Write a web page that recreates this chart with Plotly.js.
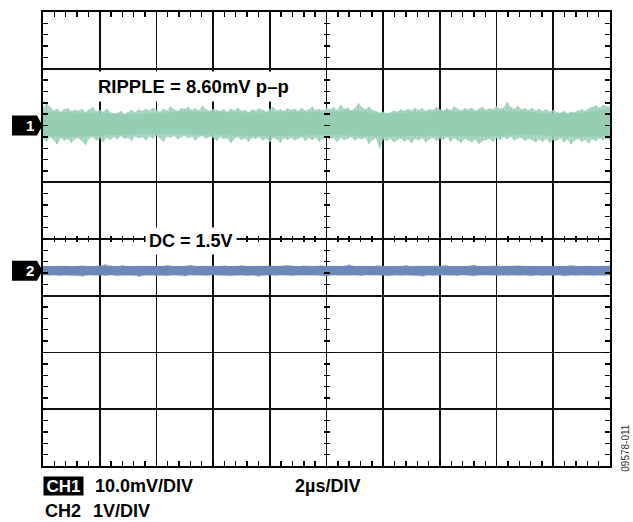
<!DOCTYPE html>
<html><head><meta charset="utf-8">
<script src="https://cdn.plot.ly/plotly-3.0.1.min.js"></script>
<style>html,body{margin:0;padding:0;background:#fff}#chart{width:633px;height:522px}</style>
</head><body><div id="chart"></div>
<script>
// ---- CH1 (10 mV/div) : values in mV relative to the CH1 marker, 20 µs span ----
// slow wander of the dense core of the ripple band (one value per µs)
const ch1CoreUpper = [2.3,2.2,2.1,1.9,2.1,2.4,2.3,2.2,2.2,2.3,2.4,2.5,2.0,2.2,2.4,2.4,2.5,2.4,2.0,2.2,2.8];
const ch1CoreLower = [-1.8,-1.9,-1.7,-1.5,-1.4,-1.4,-1.6,-1.7,-1.8,-1.7,-1.6,-1.7,-1.9,-1.8,-1.7,-1.9,-1.8,-1.5,-1.8,-1.9,-1.8];
// noise peaks (every 0.125 µs)
const ch1Upper = [
3.1,3.9,3.2,2.6,2.9,2.4,2.8,3.0,2.5,2.7,
2.6,2.9,2.3,2.8,3.2,2.5,2.7,2.4,2.9,2.3,
2.1,2.2,2.5,2.0,2.4,2.7,2.3,2.8,2.5,2.9,
2.6,3.1,2.7,2.4,2.9,2.6,3.3,2.8,2.5,3.0,
2.9,3.2,2.7,3.0,2.6,3.4,2.8,2.5,2.9,2.7,
2.5,2.8,2.4,2.9,2.6,3.1,2.5,2.7,2.3,2.8,
2.6,3.0,2.7,2.4,2.9,3.2,2.6,2.8,2.5,3.0,
2.7,2.9,2.5,3.1,2.6,2.8,3.3,2.7,2.9,2.6,
3.0,2.8,3.2,2.7,3.6,2.9,3.1,2.6,3.0,3.9,
3.2,2.8,3.3,2.7,2.5,2.2,2.4,2.1,2.3,2.6,
2.4,2.8,2.5,2.9,2.6,3.1,2.7,3.0,2.5,2.8,
2.7,3.2,2.8,2.6,3.0,2.7,3.3,2.9,2.6,3.0,
2.8,3.1,2.6,2.9,3.2,2.7,3.0,2.8,3.4,2.9,
3.1,4.1,3.2,2.9,3.4,2.8,3.0,2.7,3.1,2.6,
2.9,2.5,2.8,2.4,2.7,2.3,2.2,2.5,2.1,2.4,
2.3,2.6,2.8,2.5,3.0,3.2,3.5,3.1,3.6,3.4,
3.3];
const ch1Lower = [
-2.2,-2.8,-2.0,-2.5,-3.3,-2.1,-2.6,-2.3,-3.0,-2.4,
-2.2,-2.7,-3.4,-2.3,-2.0,-2.6,-2.2,-2.9,-2.1,-2.5,
-2.0,-2.4,-1.8,-2.3,-2.1,-2.7,-1.9,-2.2,-2.0,-2.6,
-1.9,-2.3,-1.7,-2.2,-2.8,-1.9,-2.1,-1.8,-2.4,-2.0,
-1.8,-2.2,-1.9,-2.6,-2.0,-1.8,-2.3,-1.9,-2.1,-2.7,
-2.0,-2.4,-2.2,-3.1,-2.3,-2.0,-2.5,-2.2,-2.8,-2.1,
-2.3,-2.0,-2.6,-2.2,-2.9,-2.1,-2.4,-3.0,-2.2,-2.5,
-2.1,-2.6,-2.3,-2.0,-2.7,-2.2,-2.5,-2.1,-2.8,-2.3,
-2.0,-2.4,-2.2,-2.9,-2.1,-2.5,-2.3,-2.0,-2.6,-2.2,
-2.4,-2.1,-3.2,-2.5,-2.2,-4.0,-2.4,-2.7,-2.3,-2.9,
-2.5,-2.2,-2.8,-2.4,-3.1,-2.3,-2.6,-2.2,-2.9,-2.4,
-2.1,-2.7,-2.3,-2.5,-2.0,-2.8,-2.2,-2.6,-3.0,-2.3,
-2.6,-2.9,-2.4,-3.2,-2.7,-2.5,-2.3,-2.8,-2.2,-2.5,
-2.0,-2.4,-1.9,-2.6,-2.2,-2.1,-2.7,-2.3,-2.5,-2.9,
-2.4,-2.8,-2.3,-3.0,-2.5,-2.7,-2.2,-2.9,-2.4,-3.3,
-2.6,-2.3,-2.8,-2.5,-3.1,-2.4,-2.7,-2.2,-2.6,-2.3,
-2.5];

// ---- CH2 (1 V/div) : values in mV relative to the CH2 marker ----
const ch2CoreUpper = [72,74,70,73,75,72,71,74,76,72,73,75,72,70,74,73,72,75,71,73,72];
const ch2CoreLower = [-68,-70,-67,-69,-71,-68,-67,-70,-69,-68,-71,-67,-69,-70,-68,-67,-70,-69,-68,-71,-69];
const ch2Upper = [
75,80,72,78,85,74,79,90,76,82,
88,110,84,78,92,80,75,86,79,83,
77,81,95,79,74,84,100,80,76,85,
82,78,88,74,80,92,77,83,79,86,
81,76,84,98,80,75,87,82,78,90,
79,85,76,81,105,80,77,84,79,88,
82,75,83,80,94,78,86,81,76,84,
80,92,78,85,79,82,100,77,83,80,
87,79,84,76,90,81,78,86,80,83,
77,85,79,95,81,76,84,80,78,86,
82];
const ch2Lower = [
-72,-78,-70,-85,-74,-80,-76,-95,-73,-79,
-75,-82,-71,-88,-77,-74,-80,-100,-76,-73,
-79,-75,-84,-72,-78,-90,-74,-80,-76,-83,
-71,-77,-74,-86,-79,-73,-81,-75,-98,-77,
-74,-80,-72,-78,-85,-76,-73,-82,-75,-79,
-92,-74,-78,-71,-80,-76,-84,-73,-79,-75,
-77,-88,-74,-80,-72,-78,-76,-95,-75,-81,
-73,-79,-76,-84,-72,-78,-90,-74,-80,-75,
-77,-73,-82,-76,-79,-74,-87,-75,-81,-73,
-78,-76,-93,-74,-80,-72,-79,-77,-75,-81,
-76];

const timeSpan = 20;        // µs (10 div x 2 µs/div)
const ch1Offset = 2.0;      // divisions
const ch2Offset = -0.56;    // divisions
const ch1Scale = 10;        // mV/div
const ch2Scale = 1000;      // mV/div (1 V/div)

const labelTexts = {
  ripple: 'RIPPLE = 8.60mV p\u2013p',
  dc: 'DC = 1.5V',
  ch1: 'CH1', ch1Scale: '10.0mV/DIV', time: '2\u00b5s/DIV',
  ch2: 'CH2', ch2Scale: '1V/DIV', code: '09578-011'
};

const green = 'rgb(150,206,180)';
const greenLight = 'rgba(150,206,180,0.75)';
const blue = 'rgb(108,135,186)';
const blueLight = 'rgba(108,135,186,0.6)';
const FONT = 'Liberation Sans, Arial, Helvetica, sans-serif';

function times(n){ return Array.from({length:n}, (_, i) => i * timeSpan / (n - 1)); }
function toDiv(arr, off, sc){ return arr.map(v => off + v / sc); }
function hairs(ts, vals, off, sc){
  const x = [], y = [];
  ts.forEach((t, i) => { x.push(t, t, null); y.push(off, off + vals[i] / sc, null); });
  return {x, y};
}

function channel(up, low, coreUp, coreLow, off, sc, col, colLight, xa, ya){
  const tn = times(up.length), tc = times(coreUp.length);
  const hu = hairs(tn, up, off, sc), hl = hairs(tn, low, off, sc);
  const base = {type:'scatter', mode:'lines', hoverinfo:'skip', showlegend:false, xaxis:xa, yaxis:ya};
  return [
    Object.assign({}, base, {x:tn, y:toDiv(up, off, sc), line:{color:colLight, width:0.5}}),
    Object.assign({}, base, {x:tn, y:toDiv(low, off, sc), line:{color:colLight, width:0.5}, fill:'tonexty', fillcolor:colLight}),
    Object.assign({}, base, {x:hu.x, y:hu.y, line:{color:col, width:1.2}, connectgaps:false}),
    Object.assign({}, base, {x:hl.x, y:hl.y, line:{color:col, width:1.2}, connectgaps:false}),
    Object.assign({}, base, {x:tc, y:toDiv(coreUp, off, sc), line:{color:col, width:1, shape:'spline'}}),
    Object.assign({}, base, {x:tc, y:toDiv(coreLow, off, sc), line:{color:col, width:1, shape:'spline'}, fill:'tonexty', fillcolor:col})
  ];
}

const traces = [].concat(
  channel(ch1Upper, ch1Lower, ch1CoreUpper, ch1CoreLower, ch1Offset, ch1Scale, green, greenLight, 'x', 'y'),
  channel(ch2Upper, ch2Lower, ch2CoreUpper, ch2CoreLower, ch2Offset, ch2Scale, blue, blueLight, 'x2', 'y2')
);

const frameAxis = (range, dtick, minorDtick) => ({
  range: range, dtick: dtick, tick0: 0, showgrid: true, gridcolor: '#111', gridwidth: 1.6,
  zeroline: false, showline: true, linecolor: '#000', linewidth: 2.2, mirror: 'ticks',
  ticks: 'inside', ticklen: 5, tickwidth: 1.4, tickcolor: '#000', showticklabels: false,
  minor: {ticks: 'inside', dtick: minorDtick, ticklen: 5, tickwidth: 1.4, tickcolor: '#000', showgrid: false},
  fixedrange: true
});
// centre cross-hair axes: inside ticks of length 6 straddle the centre grid line
const centerAxis = (range, dtick, minorDtick, overlay, pos) => ({
  overlaying: overlay, anchor: 'free', position: pos, range: range, dtick: dtick, tick0: 0,
  showgrid: false, zeroline: false, showline: false, showticklabels: false,
  ticks: 'inside', ticklen: 6, tickwidth: 1.4, tickcolor: '#000',
  minor: {ticks: 'inside', dtick: minorDtick, ticklen: 6, tickwidth: 1.4, tickcolor: '#000', showgrid: false},
  fixedrange: true
});

function chMarker(yOff){
  const h = 0.176;
  return {type:'path', xref:'paper', yref:'y',
    path:`M -0.0547,${yOff+h} L -0.0106,${yOff+h} L -0.0009,${yOff} L -0.0106,${yOff-h} L -0.0547,${yOff-h} Z`,
    fillcolor:'#000', line:{width:0}, layer:'above'};
}

const bold = (s) => '<b>' + s + '</b>';

const layout = {
  width: 633, height: 522,
  margin: {l: 43, r: 23, t: 12, b: 56, pad: 0},
  paper_bgcolor: '#fff', plot_bgcolor: '#fff',
  showlegend: false,
  font: {family: FONT, color: '#000'},
  xaxis: frameAxis([0, timeSpan], 2, 0.4),
  yaxis: frameAxis([-4, 4], 1, 0.2),
  xaxis2: centerAxis([0, timeSpan], 2, 0.4, 'x', 0.4934),
  yaxis2: centerAxis([-4, 4], 1, 0.2, 'y', 0.4947),
  shapes: [chMarker(ch1Offset), chMarker(ch2Offset)],
  annotations: [
    {text: bold(labelTexts.ripple), x: 5.31, y: 2.68, xref: 'x', yref: 'y', showarrow: false,
     font: {size: 18.5, family: FONT, color: '#000'}, bgcolor: '#fff', borderpad: 4},
    {text: bold(labelTexts.dc), x: 5.22, y: -0.04, xref: 'x', yref: 'y', showarrow: false,
     font: {size: 18, family: FONT, color: '#000'}, bgcolor: '#fff', borderpad: 3},
    {text: bold('1'), x: -0.034, y: ch1Offset, xref: 'paper', yref: 'y', showarrow: false,
     font: {size: 15, family: FONT, color: '#fff'}},
    {text: bold('2'), x: -0.034, y: ch2Offset, xref: 'paper', yref: 'y', showarrow: false,
     font: {size: 15, family: FONT, color: '#fff'}},
    {text: bold(labelTexts.ch1), x: 0, y: -0.044, xref: 'paper', yref: 'paper', xanchor: 'left', yanchor: 'middle',
     showarrow: false, font: {size: 17, family: FONT, color: '#fff'}, bgcolor: '#000', borderpad: 0, width: 39, height: 18},
    {text: bold(labelTexts.ch1Scale), x: 0.088, y: -0.044, xref: 'paper', yref: 'paper', xanchor: 'left', yanchor: 'middle',
     showarrow: false, font: {size: 18, family: FONT, color: '#000'}},
    {text: bold(labelTexts.time), x: 0.441, y: -0.044, xref: 'paper', yref: 'paper', xanchor: 'left', yanchor: 'middle',
     showarrow: false, font: {size: 18, family: FONT, color: '#000'}},
    {text: bold(labelTexts.ch2), x: 0, y: -0.1, xref: 'paper', yref: 'paper', xanchor: 'left', yanchor: 'middle',
     showarrow: false, font: {size: 18, family: FONT, color: '#000'}},
    {text: bold(labelTexts.ch2Scale), x: 0.0847, y: -0.1, xref: 'paper', yref: 'paper', xanchor: 'left', yanchor: 'middle',
     showarrow: false, font: {size: 18, family: FONT, color: '#000'}},
    {text: labelTexts.code, x: 1.028, y: 0.04, xref: 'paper', yref: 'paper', xanchor: 'center', yanchor: 'middle',
     textangle: -90, showarrow: false, font: {size: 10, family: FONT, color: '#333'}}
  ]
};

Plotly.newPlot('chart', traces, layout, {staticPlot: true, displayModeBar: false});
</script>
</body></html>
